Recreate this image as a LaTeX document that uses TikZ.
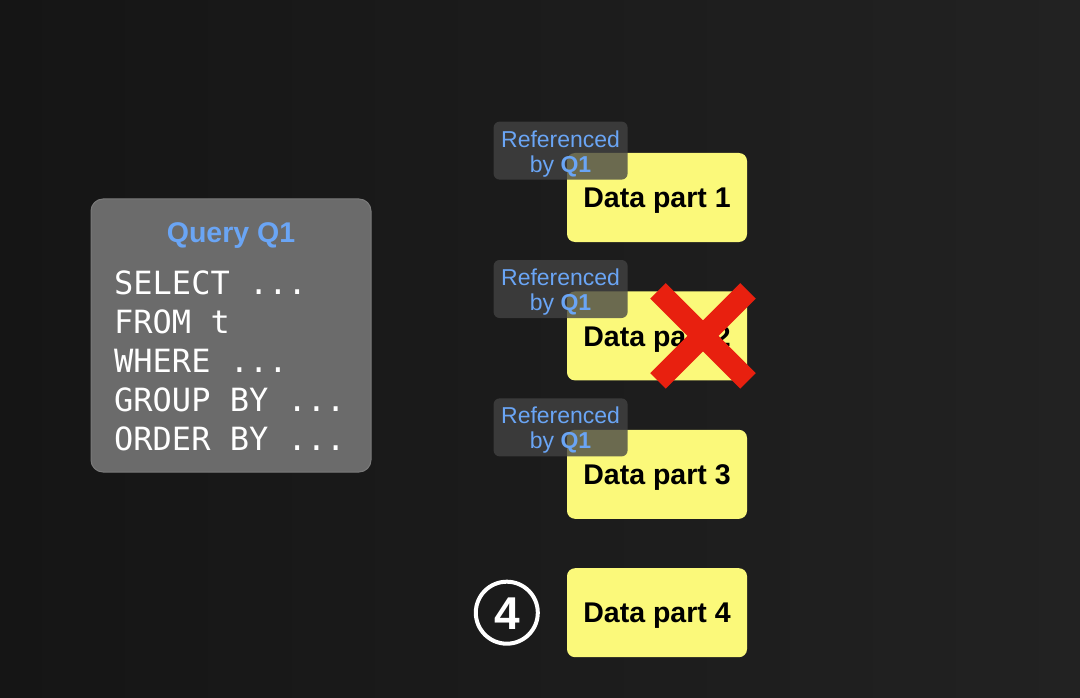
\documentclass[tikz,border=0pt]{standalone}
\usepackage{fontspec}
\setmainfont{Liberation Sans}
\setmonofont{DejaVu Sans Mono}
\usepackage{xcolor}
\definecolor{bgleft}{HTML}{151515}
\definecolor{bgright}{HTML}{222222}
\definecolor{querybg}{HTML}{6B6B6B}
\definecolor{queryline}{HTML}{7A7A7A}
\definecolor{qblue}{HTML}{6AA5F5}
\definecolor{partyellow}{HTML}{FBF97A}
\definecolor{refgray}{HTML}{434343}
\definecolor{crossred}{HTML}{E8200F}
\usetikzlibrary{positioning, calc}

\begin{document}
\begin{tikzpicture}[
        x=1pt, y=-1pt,
        node distance=49pt and 29pt,
        font=\sffamily,
        querybox/.style={
            rectangle,
            rounded corners=12pt,
            draw=queryline,
            line width=1pt,
            fill=querybg,
            minimum width=280pt,
            minimum height=273pt
        },
        partbox/.style={
            rectangle,
            rounded corners=8pt,
            fill=partyellow,
            minimum width=180pt,
            minimum height=89pt,
            text=black,
            text height=20.4pt,
            text depth=0pt,
            font=\fontsize{28.5}{30}\selectfont\bfseries
        },
        refbox/.style={
            rectangle,
            rounded corners=6pt,
            fill=refgray,
            fill opacity=0.78,
            text opacity=1,
            text=qblue,
            align=center,
            minimum width=134pt,
            minimum height=58pt,
            inner sep=0pt,
            font=\fontsize{23}{25}\selectfont
        },
        cross/.style={
            draw=crossred,
            line width=22pt,
            line cap=butt
        }
    ]

    % Background
    \shade[left color=bgleft, right color=bgright] (0,0) rectangle (1080,698);
    \useasboundingbox (0,0) rectangle (1080,698);

    % Query
    \node[querybox] (query) at (231,335.5) {};
    \node[text=qblue, text height=20.4pt, text depth=0pt,
          font=\fontsize{28.5}{30}\selectfont\bfseries] (qtitle) at (231,232) {Query Q1};
    \node[anchor=north west, inner sep=0pt, align=left, text=white,
          font=\ttfamily\fontsize{32}{39}\selectfont] (qcode) at (114,271)
        {SELECT ...\\FROM t\\WHERE ...\\GROUP BY ...\\ORDER BY ...};

    % Data parts
    \node[partbox] (part1) at (657,197.5) {Data part 1};
    \node[partbox, below=of part1] (part2) {Data part 2};
    \node[partbox, below=of part2] (part3) {Data part 3};
    \node[partbox, below=of part3] (part4) {Data part 4};

    % References
    \node[refbox, anchor=south east] (ref1) at ([xshift=61pt, yshift=-27pt]part1.north west) {\raisebox{-3pt}[\height][\depth]{\parbox{134pt}{\centering Referenced\\by \textbf{Q1}}}};
    \node[refbox, anchor=south east] (ref2) at ([xshift=61pt, yshift=-27pt]part2.north west) {\raisebox{-3pt}[\height][\depth]{\parbox{134pt}{\centering Referenced\\by \textbf{Q1}}}};
    \node[refbox, anchor=south east] (ref3) at ([xshift=61pt, yshift=-27pt]part3.north west) {\raisebox{-3pt}[\height][\depth]{\parbox{134pt}{\centering Referenced\\by \textbf{Q1}}}};

    % Removed part
    \coordinate (xmid) at ([xshift=46pt]part2.center);
    \draw[cross] ($(xmid)+(-45,-45)$) -- ($(xmid)+(45,45)$);
    \draw[cross] ($(xmid)+(-45,45)$) -- ($(xmid)+(45,-45)$);

    % Step
    \node[circle, draw=white, line width=4pt, minimum size=62pt, inner sep=0pt,
          text=white, text height=33pt, text depth=0pt,
          font=\fontsize{46}{48}\selectfont\bfseries, left=27pt of part4] (step4) {4};

\end{tikzpicture}
\end{document}
